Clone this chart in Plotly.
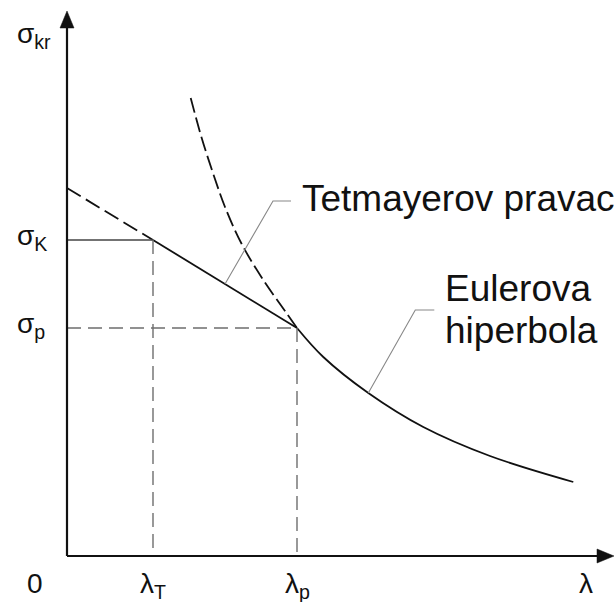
import numpy as np
import plotly.graph_objects as go

# ---- data (schematic units) ----
lam_T = 86.0          # λ_T
lam_p = 230.0         # λ_p
sig_K = 316.0         # σ_K
sig_p = 228.0         # σ_p
tet_intercept = 368.0 # Tetmayer line value at λ = 0

tet_lam = [0.0, lam_T, lam_p]
tet_sig = [tet_intercept, sig_K, sig_p]

euler_dash_lam = [123.7, 134.7, 146.3, 158.0, 174.7, 196.3, 218.0, 230.0]
euler_dash_sig = [458.0, 418.0, 382.0, 349.0, 312.0, 276.0, 245.0, 228.0]
euler_solid_lam = [230.0, 256.3, 301.3, 356.3, 423.0, 506.3]
euler_solid_sig = [228.0, 199.0, 163.0, 129.0, 100.0, 74.0]

# label positions for leaders (λ where leader touches the curve)
tet_leader_lam = 158.0
eul_leader_lam = 301.3

FONT = "Liberation Sans, Arial, sans-serif"
BLACK = "#111111"
GREY = "#6e6e6e"

fig = go.Figure()

# Tetmayer line: dashed extension from 0 to λT, solid λT..λp
fig.add_trace(go.Scatter(x=tet_lam[:2], y=tet_sig[:2], mode="lines",
                         line=dict(color=BLACK, width=1.8, dash="16px,6px")))
fig.add_trace(go.Scatter(x=tet_lam[1:], y=tet_sig[1:], mode="lines",
                         line=dict(color=BLACK, width=1.8)))

# Euler hyperbola
fig.add_trace(go.Scatter(x=euler_dash_lam, y=euler_dash_sig, mode="lines",
                         line=dict(color=BLACK, width=1.8, dash="15px,5px",
                                   shape="spline", smoothing=1.0)))
fig.add_trace(go.Scatter(x=euler_solid_lam, y=euler_solid_sig, mode="lines",
                         line=dict(color=BLACK, width=1.8, shape="spline", smoothing=1.0)))

# guide lines
fig.add_trace(go.Scatter(x=[0, lam_T], y=[sig_K, sig_K], mode="lines",
                         line=dict(color="#444444", width=1.6)))
fig.add_trace(go.Scatter(x=[lam_T, lam_T], y=[sig_K, 0], mode="lines",
                         line=dict(color=GREY, width=1.4, dash="14px,7px")))
fig.add_trace(go.Scatter(x=[0, lam_p], y=[sig_p, sig_p], mode="lines",
                         line=dict(color=GREY, width=1.4, dash="14px,7px")))
fig.add_trace(go.Scatter(x=[lam_p, lam_p], y=[sig_p, 0], mode="lines",
                         line=dict(color=GREY, width=1.4, dash="14px,7px")))

# leaders
tet_y0 = float(np.interp(tet_leader_lam, tet_lam, tet_sig))
eul_y0 = float(np.interp(eul_leader_lam, euler_solid_lam, euler_solid_sig))
fig.add_trace(go.Scatter(x=[tet_leader_lam, tet_leader_lam + 48, tet_leader_lam + 66],
                         y=[tet_y0, tet_y0 + 83, tet_y0 + 83], mode="lines",
                         line=dict(color="#888888", width=1.1)))
fig.add_trace(go.Scatter(x=[eul_leader_lam, eul_leader_lam + 47, eul_leader_lam + 66],
                         y=[eul_y0, eul_y0 + 83, eul_y0 + 83], mode="lines",
                         line=dict(color="#888888", width=1.1)))

# axes with arrows
shapes = [
    dict(type="line", x0=0, y0=0, x1=0, y1=530, line=dict(color=BLACK, width=2.2)),
    dict(type="line", x0=0, y0=0, x1=532, y1=0, line=dict(color=BLACK, width=2.2)),
    dict(type="path", path="M -7 528 L 7 528 L 0 545 Z", fillcolor=BLACK,
         line=dict(color=BLACK, width=0.5)),
    dict(type="path", path="M 530 -7 L 530 7 L 547 0 Z", fillcolor=BLACK,
         line=dict(color=BLACK, width=0.5)),
]

ann = []
def txt(x, y, s, size, xa="center", ya="middle"):
    ann.append(dict(x=x, y=y, xref="x", yref="y", text=s, showarrow=False,
                    xanchor=xa, yanchor=ya, font=dict(family=FONT, size=size, color=BLACK)))

txt(-52, 521, "σ<sub>kr</sub>", 28, "left")
txt(-52, sig_K + 3, "σ<sub>K</sub>", 28, "left")
txt(-52, sig_p + 3, "σ<sub>p</sub>", 28, "left")
txt(-32, -27, "0", 28)
txt(lam_T, -29, "λ<sub>T</sub>", 28)
txt(lam_p, -29, "λ<sub>p</sub>", 28)
txt(519, -27, "λ", 28)
txt(233, 358, "Tetmayerov pravac", 37, "left")
txt(376, 268, "Eulerova", 37, "left")
txt(376, 226, "hiperbola", 37, "left")

fig.update_layout(
    width=616, height=602,
    margin=dict(l=0, r=0, t=0, b=0),
    paper_bgcolor="white", plot_bgcolor="white",
    showlegend=False,
    xaxis=dict(range=[-67, 549], visible=False, fixedrange=True),
    yaxis=dict(range=[-46, 556], visible=False, fixedrange=True),
    shapes=shapes, annotations=ann,
)

fig.write_html("out.html", config={"displayModeBar": False},
               post_script="document.body.style.margin='0';document.body.style.overflow='hidden';")
